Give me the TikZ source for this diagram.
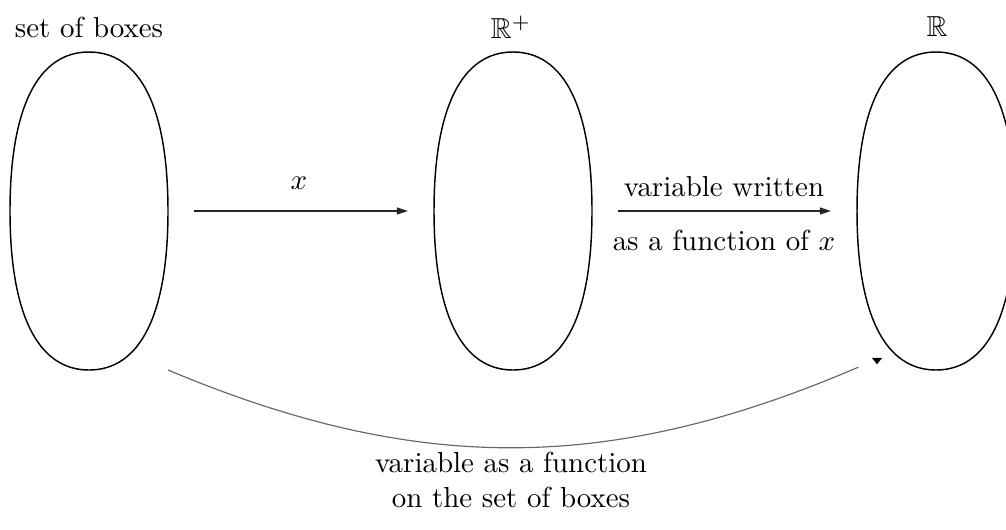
\documentclass[tikz,border=0pt]{standalone}
\usepackage{amssymb}
\usetikzlibrary{arrows.meta}
\tikzset{
  blobbox/.style={rectangle,draw=none,minimum width=54.6pt,minimum height=109.9pt,inner sep=0pt,outer sep=0pt},
  blobline/.style={line width=0.5pt,black},
  maparrow/.style={line width=0.45pt,black!85,-{Triangle[length=3.8pt,width=2.4pt]},shorten <=9pt,shorten >=9pt},
  curvearrow/.style={line width=0.4pt,black!60},
  lbl/.style={inner sep=0pt,font=\normalsize}
}
\newcommand\myblob[1]{\draw[blobline] (#1.north) .. controls ([xshift=17.8pt]#1.north) and ([yshift=35.5pt]#1.east) .. (#1.east) .. controls ([yshift=-35.5pt]#1.east) and ([xshift=17.8pt]#1.south) .. (#1.south) .. controls ([xshift=-17.8pt]#1.south) and ([yshift=-35.5pt]#1.west) .. (#1.west) .. controls ([yshift=35.5pt]#1.west) and ([xshift=-17.8pt]#1.north) .. (#1.north) -- cycle;}
\begin{document}
\begin{tikzpicture}[x=0.3456pt,y=-0.3456pt]
\useasboundingbox (0,0) rectangle (1006,529);
\clip (0,0) rectangle (1006,529);
\node[blobbox] (A) at (89,211) {};
\node[blobbox] (B) at (513,211) {};
\node[blobbox] (C) at (936,211) {};
\myblob{A}
\myblob{B}
\myblob{C}
\node[lbl] (tA) at (89,27) {set of boxes};
\node[lbl] (tB) at (511,27) {$\mathbb{R}^+$};
\node[lbl] (tC) at (937,27) {$\mathbb{R}$};
\draw[maparrow] (A.east) -- (B.west);
\draw[maparrow] (B.east) -- (C.west);
\node[lbl] (lx) at (299,183) {$x$};
\node[lbl] (lv1) at (724,187) {variable written};
\node[lbl] (lv2) at (724,240) {as a function of $x$};
\coordinate (tip) at (877,361);
\draw[curvearrow] (A.south east) to[bend right=23] ([xshift=0.5pt,yshift=1pt]C.south west);
\fill[black] ([xshift=-1.8pt,yshift=1.1pt]tip) -- ([xshift=1.8pt,yshift=1.1pt]tip) -- ([yshift=-1.1pt]tip) -- cycle;
\node[lbl,align=center] (lb) at (511,480) {variable as a function\\on the set of boxes};
\end{tikzpicture}
\end{document}
